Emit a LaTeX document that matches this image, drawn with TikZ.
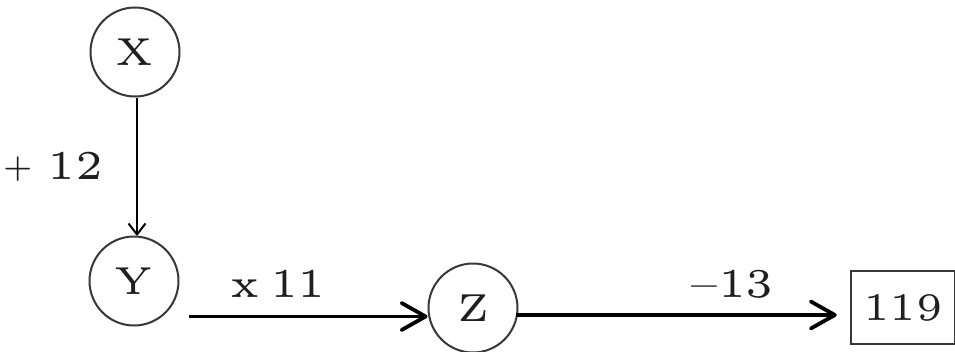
\documentclass[tikz,border=0pt]{standalone}
\usepackage{graphicx}
\usetikzlibrary{arrows.meta}
\newcommand{\mytxt}[1]{\scalebox{7.8}{\fontsize{5}{6}\selectfont #1}}
\newcommand{\mylbl}[1]{\scalebox{8.2}{\fontsize{5}{6}\selectfont #1}}
\tikzset{
  circ/.style={circle, draw=black!78, line width=2pt, minimum size=89pt, inner sep=0pt, text=black!88},
  boxn/.style={rectangle, draw=black!78, line width=2.5pt, minimum width=104pt, minimum height=73pt, inner sep=0pt, text=black!88},
  lbl/.style={inner sep=0pt, text=black!88},
  thinarr/.style={line width=2pt, -{Straight Barb[length=11pt,width=17pt,line join=round]}},
  thickarr/.style={line width=3.8pt, -{Straight Barb[length=24pt,width=27pt,line join=round,line cap=round]}}
}
\begin{document}
\begin{tikzpicture}[x=1pt,y=-1pt]
\useasboundingbox (0,0) rectangle (955,351);
\clip (0,0) rectangle (955,351);
\node[circ] (X) at (135,52) {\mytxt{X}};
\node[circ] (Y) at (134,281) {\mytxt{Y}};
\node[circ] (Z) at (473,308) {\mytxt{Z}};
\node[boxn] (B) at (903,307.5) {\mytxt{119}};
\node[lbl] (l1) at (53,166.5) {\mylbl{\raisebox{0.35pt}{\scalebox{0.72}{+}}\hspace{1.8pt}12}};
\node[lbl] (l2) at (278,283.5) {\mylbl{x\hspace{1.3pt}11}};
\node[lbl] (l3) at (732,284) {\mylbl{\textendash13}};
\coordinate (ys) at (189,316.5);
\coordinate (zs) at (516,315);
\draw[thinarr] (X.south) ++(2,0) coordinate (xs) -- (xs |- Y.north);
\draw[thickarr] (ys) -- (ys -| Z.west);
\draw[thickarr, shorten >=13pt] (zs) -- (zs -| B.west);
\end{tikzpicture}
\end{document}
